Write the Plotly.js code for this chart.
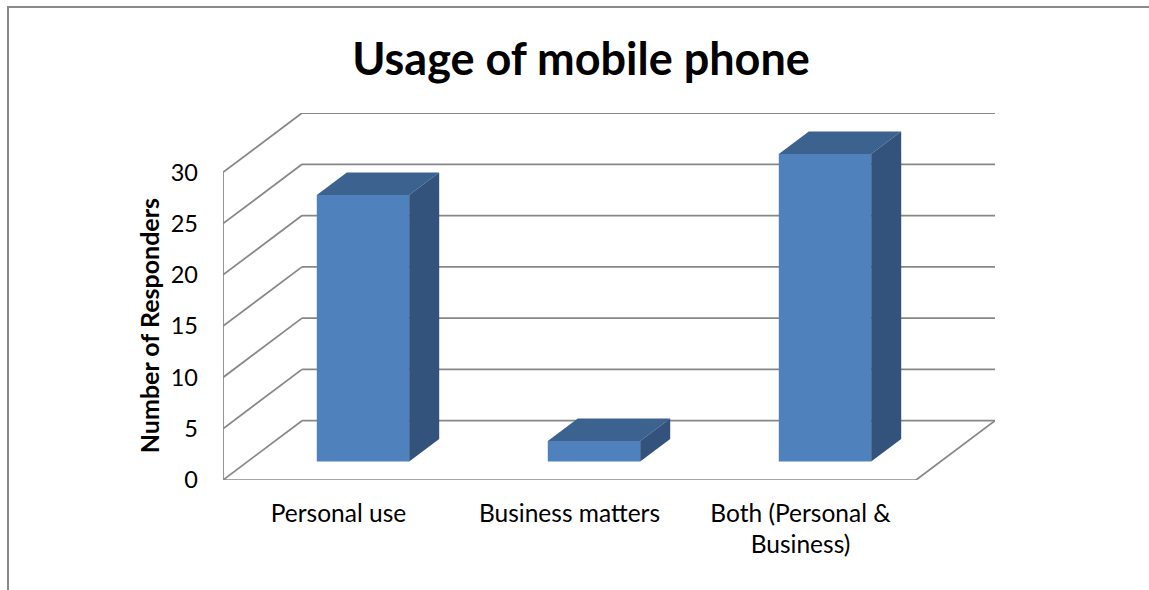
<!DOCTYPE html>
<html>
<head>
<meta charset="utf-8">
<script src="https://cdn.plot.ly/plotly-3.0.1.min.js"></script>
<style>
  html, body { margin: 0; padding: 0; background: #ffffff; }
  #wrap { position: relative; width: 1149px; height: 590px; overflow: hidden; }
  #chart { position: absolute; left: 0; top: 0; width: 1149px; height: 590px; }
  #frame { position: absolute; left: 7px; top: 6px; width: 1200px; height: 700px;
           border-top: 2px solid #8a8a8a; border-left: 2px solid #8a8a8a; pointer-events: none; }
</style>
</head>
<body>
<div id="wrap">
  <div id="chart"></div>
  <div id="frame"></div>
</div>
<script>
// ---- data ----
const categories = ['Personal use', 'Business matters', 'Both (Personal &<br>Business)'];
const responders = [26, 2, 30];
const yTickValues = [0, 5, 10, 15, 20, 25, 30];
const yTickLabels = ['0', '5', '10', '15', '20', '25', '30'];
const chartTitle = 'Usage of mobile phone';
const yTitle = 'Number of Responders';

// ---- 3D projection style (oblique) ----
const nCat = categories.length;
const ddx = 0.342;      // full depth offset along x (category units)
const ddy = 5.784;      // full depth offset along y (value units)
const d0 = 0.31, d1 = 0.69;   // bar front/back depth fractions
const barW = 0.4;
const yMax = yTickValues[yTickValues.length - 1];
const x0 = -0.5, x1 = nCat - 0.5;

const gridColor = '#878787';
const frontColor = '#4f81bd';
const topColor = '#3c6290';
const sideColor = '#33537c';

// walls / gridlines as shapes beneath traces
const shapes = [];
function seg(xa, ya, xb, yb) {
  shapes.push({type: 'line', xref: 'x', yref: 'y', x0: xa, y0: ya, x1: xb, y1: yb,
               layer: 'below', line: {color: gridColor, width: 1.75}});
}
yTickValues.forEach(t => {
  seg(x0, t, x0 + ddx, t + ddy);            // side wall
  seg(x0 + ddx, t + ddy, x1 + ddx, t + ddy); // back wall
});
seg(x0, 0, x0, yMax);            // front left edge
seg(x0, 0, x1, 0);               // floor front edge
seg(x1, 0, x1 + ddx, ddy);       // floor right edge

const traces = [];
// front faces
traces.push({
  type: 'bar',
  x: categories.map((c, i) => i + d0 * ddx),
  y: responders,
  base: responders.map(() => d0 * ddy),
  width: barW,
  marker: {color: frontColor, line: {width: 0}},
  hoverinfo: 'skip',
  showlegend: false
});
// top and side faces
responders.forEach((v, i) => {
  const L = i - barW / 2, R = i + barW / 2;
  traces.push({
    type: 'scatter', mode: 'lines', fill: 'toself', fillcolor: topColor,
    line: {width: 0, color: topColor},
    x: [L + d0 * ddx, R + d0 * ddx, R + d1 * ddx, L + d1 * ddx, L + d0 * ddx],
    y: [v + d0 * ddy, v + d0 * ddy, v + d1 * ddy, v + d1 * ddy, v + d0 * ddy],
    hoverinfo: 'skip', showlegend: false
  });
  traces.push({
    type: 'scatter', mode: 'lines', fill: 'toself', fillcolor: sideColor,
    line: {width: 0, color: sideColor},
    x: [R + d0 * ddx, R + d1 * ddx, R + d1 * ddx, R + d0 * ddx, R + d0 * ddx],
    y: [d0 * ddy, d1 * ddy, v + d1 * ddy, v + d0 * ddy, d0 * ddy],
    hoverinfo: 'skip', showlegend: false
  });
});

const font = 'Lato, "Open Sans", sans-serif';
const layout = {
  width: 1149, height: 590,
  margin: {l: 223, r: 154, t: 113, b: 110, autoexpand: false},
  paper_bgcolor: 'rgba(0,0,0,0)', plot_bgcolor: 'rgba(0,0,0,0)',
  showlegend: false,
  hovermode: false,
  font: {family: font, color: '#000000'},
  title: {text: '<b>' + chartTitle + '</b>', font: {family: font, size: 45, color: '#000000'},
          xref: 'container', x: 581 / 1149, xanchor: 'center',
          yref: 'container', y: 1 - 59 / 590, yanchor: 'middle'},
  xaxis: {range: [x0, x1 + ddx], tickvals: categories.map((c, i) => i), ticktext: categories,
          showgrid: false, zeroline: false, showline: false, ticks: '',
          ticklabelstandoff: 16, tickfont: {family: font, size: 24.5, color: '#000000'},
          fixedrange: true, automargin: false},
  yaxis: {range: [0, yMax + ddy], tickvals: yTickValues, ticktext: yTickLabels,
          showgrid: false, zeroline: false, showline: false, ticks: '',
          ticklabelstandoff: 24, tickfont: {family: font, size: 23.5, color: '#000000'},
          fixedrange: true, automargin: false},
  annotations: [{
    text: '<b>' + yTitle + '</b>', textangle: -90, showarrow: false,
    xref: 'x', x: x0, xshift: -74, xanchor: 'center',
    yref: 'y', y: yMax / 2, yanchor: 'middle',
    font: {family: font, size: 25, color: '#000000'}
  }],
  shapes: shapes
};

Plotly.newPlot('chart', traces, layout, {displayModeBar: false, staticPlot: true});
</script>
</body>
</html>
